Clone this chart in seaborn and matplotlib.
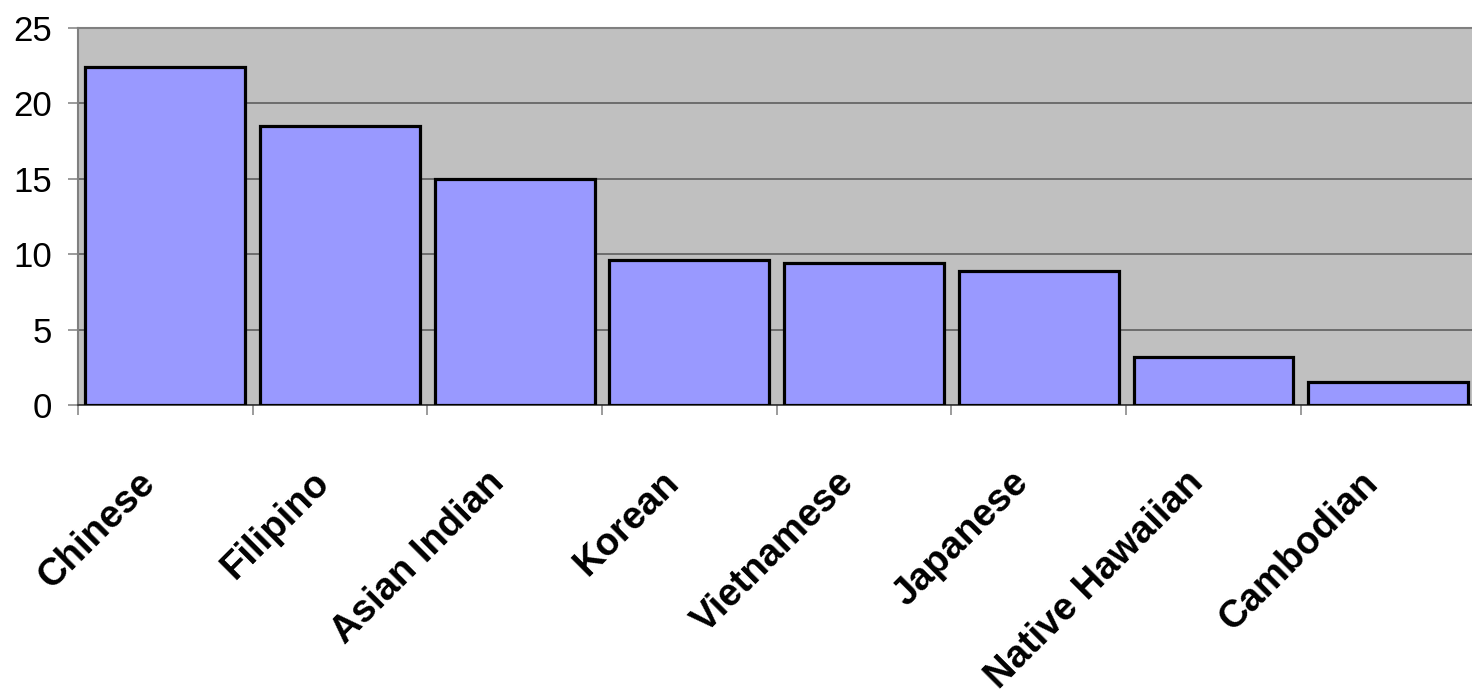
import matplotlib
matplotlib.use("Agg")
import matplotlib.pyplot as plt
import matplotlib.transforms as mtransforms
import seaborn as sns
import numpy as np

categories = ["Chinese", "Filipino", "Asian Indian", "Korean",
              "Vietnamese", "Japanese", "Native Hawaiian", "Cambodian"]
values = [22.4, 18.5, 15.0, 9.6, 9.4, 8.9, 3.2, 1.5]
y_ticks = [0, 5, 10, 15, 20, 25]

sns.set_theme(style="white")
plt.rcParams["font.family"] = ["Liberation Sans", "DejaVu Sans"]
plt.rcParams["text.color"] = "black"
plt.rcParams["xtick.labelcolor"] = "black"
plt.rcParams["ytick.labelcolor"] = "black"

fig = plt.figure(figsize=(14.72, 6.93), dpi=100)
ax = fig.add_axes([78 / 1472, 1 - 405 / 693, 1 - 78 / 1472, (405 - 28) / 693])
ax.set_facecolor("#C0C0C0")

sns.barplot(x=categories, y=values, color="#9999FF", saturation=1,
            edgecolor="black", linewidth=2.3, width=0.915, ax=ax, zorder=3)

ax.set_xlim(-0.5, 7.48)
ax.set_ylim(0, 25)

# horizontal gridlines
ax.set_yticks(y_ticks)
ax.yaxis.grid(True, color="#555555", linewidth=1.1, zorder=0)
ax.set_axisbelow(True)
ax.set_yticklabels([str(t) for t in y_ticks], fontsize=25, color="black")
ax.tick_params(axis="y", which="major", direction="out", length=7.5,
               width=1.1, color="#808080", pad=11, left=True)

# category boundary ticks (major) and label positions (minor)
n = len(categories)
ax.set_xticks(np.arange(-0.5, n - 0.5, 1.0))
ax.set_xticklabels([""] * n)
ax.tick_params(axis="x", which="major", direction="out", length=7.5,
               width=1.1, color="#808080", bottom=True)
ax.set_xticks(np.arange(n), minor=True)
ax.set_xticklabels(categories, minor=True, rotation=45, ha="right",
                   va="center", rotation_mode="anchor",
                   fontsize=27.5, fontweight="bold", color="black")
ax.tick_params(axis="x", which="minor", length=0, pad=52, bottom=True)
offset = mtransforms.ScaledTranslation(-16 / 100, 0, fig.dpi_scale_trans)
for lbl in ax.get_xticklabels(minor=True):
    lbl.set_transform(lbl.get_transform() + offset)

ax.set_xlabel("")
ax.set_ylabel("")

for side in ["left", "top"]:
    ax.spines[side].set_visible(True)
    ax.spines[side].set_color("#808080")
    ax.spines[side].set_linewidth(1.5)
ax.spines["bottom"].set_color("#333333")
ax.spines["bottom"].set_linewidth(1.2)
ax.spines["right"].set_visible(False)

fig.savefig("out.png", dpi=100)
